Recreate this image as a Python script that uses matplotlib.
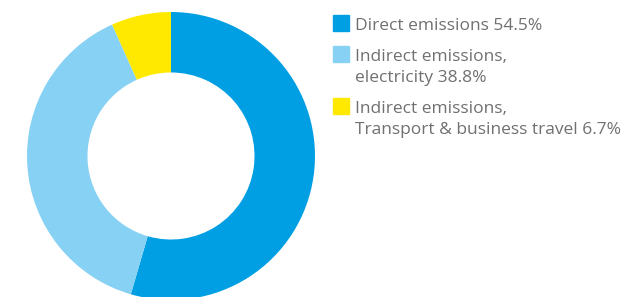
import matplotlib.pyplot as plt
from matplotlib.patches import Rectangle

# data
labels = [["Direct emissions 54.5%"],
          ["Indirect emissions,", "electricity 38.8%"],
          ["Indirect emissions,", "Transport & business travel 6.7%"]]
values = [54.5, 38.8, 6.7]
colors = ["#009FE3", "#86D1F4", "#FFE900"]

plt.rcParams['font.family'] = ['Open Sans', 'DejaVu Sans']

W, H = 621, 297
fig = plt.figure(figsize=(W / 100, H / 100), dpi=100)

# donut, center ~ (171, 156) px, radius ~144 px
cx, cy, r = 171, 156, 144
ax = fig.add_axes([(cx - r) / W, (H - cy - r) / H, 2 * r / W, 2 * r / H])
ax.pie(values, colors=colors, startangle=90, counterclock=False,
       radius=1.0, wedgeprops=dict(width=0.42, edgecolor='none'))
ax.set_xlim(-1, 1)
ax.set_ylim(-1, 1)
ax.set_aspect('equal')
ax.axis('off')

# legend drawn by hand
box_y = [15, 46, 98]
line_gap = 21
for lines, col, y in zip(labels, colors, box_y):
    fig.patches.append(Rectangle((333 / W, 1 - (y + 16) / H), 16 / W, 16 / H,
                                 transform=fig.transFigure, color=col))
    for i, txt in enumerate(lines):
        base = y + 15 + i * line_gap
        fig.text(355 / W, 1 - base / H, txt, fontsize=12.5, color='#707070',
                 va='baseline', ha='left')

fig.savefig("out.png", dpi=100)
